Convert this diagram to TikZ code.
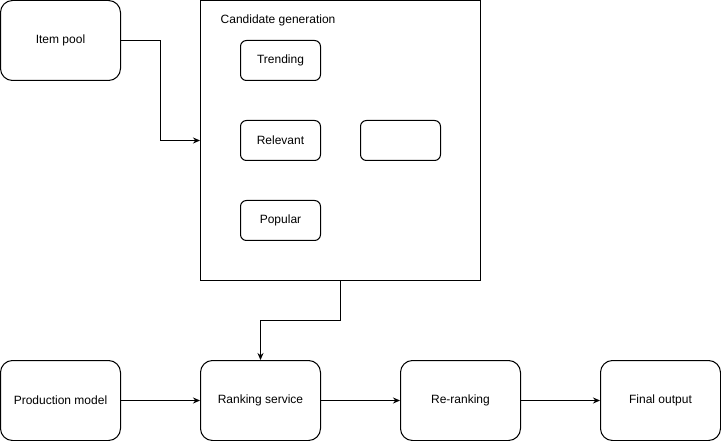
\documentclass[tikz,border=0pt]{standalone}
\usepackage{fontspec}
\setmainfont{Liberation Sans}
\usetikzlibrary{arrows.meta}
\begin{document}
\begin{tikzpicture}[x=1pt,y=-1pt,
  bigbox/.style={draw,line width=1pt,rounded corners=12pt,minimum width=120pt,minimum height=80pt,inner sep=0pt,font=\fontsize{12}{14}\selectfont},
  smallbox/.style={draw,line width=1pt,rounded corners=6pt,minimum width=80pt,minimum height=40pt,inner sep=0pt,font=\fontsize{12}{14}\selectfont},
  conn/.style={line width=1pt,-{Stealth[length=7pt,width=6pt]}}]
\useasboundingbox (0,0) rectangle (721,441);
\node[draw,line width=1pt,minimum width=280pt,minimum height=280pt,inner sep=0pt] (cg) at (340.5,140.5) {};
\node[anchor=west,font=\fontsize{12}{14}\selectfont,inner sep=0pt] (cgl) at (220.5,20.5) {Candidate generation};
\node[bigbox] (item) at (60.5,40.5) {Item pool};
\node[smallbox] (trend) at (280.5,60.5) {Trending};
\node[smallbox] (rel) at (280.5,140.5) {Relevant};
\node[smallbox] (empty) at (400.5,140.5) {};
\node[smallbox] (pop) at (280.5,220.5) {Popular};
\node[bigbox] (prod) at (60.5,400.5) {Production model};
\node[bigbox] (rank) at (260.5,400.5) {Ranking service};
\node[bigbox] (rerank) at (460.5,400.5) {Re-ranking};
\node[bigbox] (final) at (660.5,400.5) {Final output};
\draw[conn] (item.east) -- (160.5,40.5) |- (cg.west);
\draw[conn] (cg.south) -- (340.5,320.5) -| (rank.north);
\draw[conn] (prod) -- (rank);
\draw[conn] (rank) -- (rerank);
\draw[conn] (rerank) -- (final);
\end{tikzpicture}
\end{document}
